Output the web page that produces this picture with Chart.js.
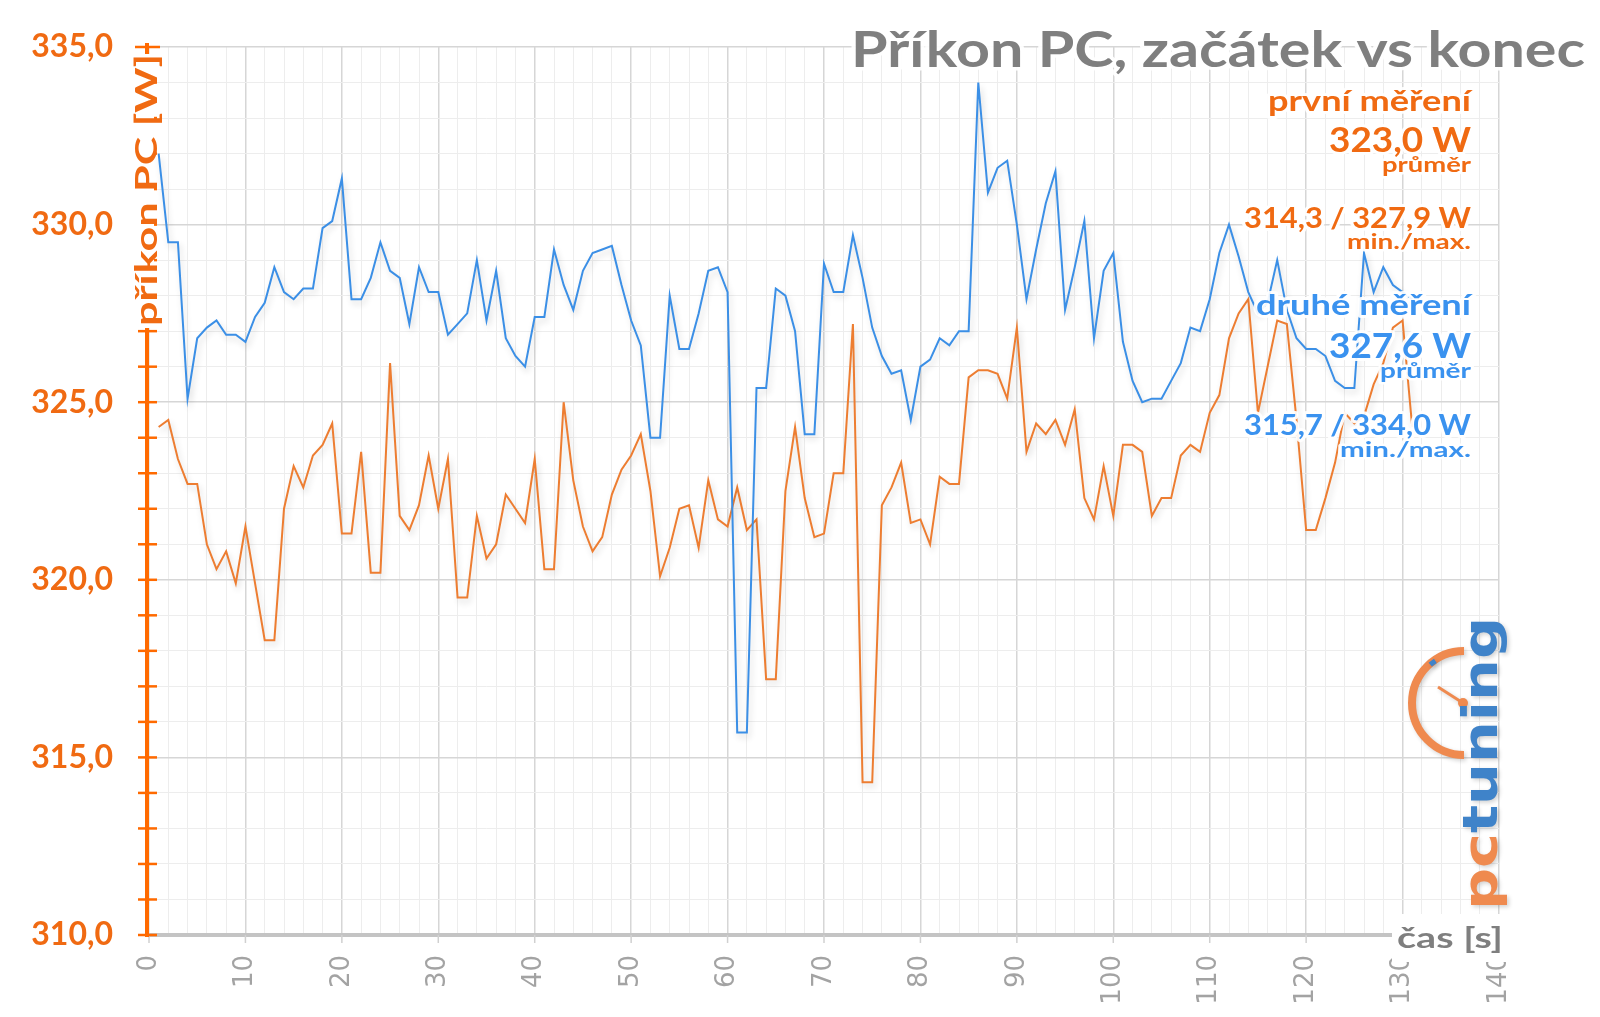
<!DOCTYPE html>
<html><head><meta charset="utf-8">
<script src="https://cdn.jsdelivr.net/npm/chart.js@4/dist/chart.umd.min.js"></script>
<style>html,body{margin:0;padding:0;background:#fff;}canvas{display:block;}</style>
</head><body>
<canvas id="c" width="1600" height="1017"></canvas>
<script>
// ---- data ----
const casS = [1,2,3,4,5,6,7,8,9,10,11,12,13,14,15,16,17,18,19,20,21,22,23,24,25,26,27,28,29,30,31,32,33,34,35,36,37,38,39,40,41,42,43,44,45,46,47,48,49,50,51,52,53,54,55,56,57,58,59,60,61,62,63,64,65,66,67,68,69,70,71,72,73,74,75,76,77,78,79,80,81,82,83,84,85,86,87,88,89,90,91,92,93,94,95,96,97,98,99,100,101,102,103,104,105,106,107,108,109,110,111,112,113,114,115,116,117,118,119,120,121,122,123,124,125,126,127,128,129,130,131];
const druheMereni = [332.0,329.5,329.5,325.1,326.8,327.1,327.3,326.9,326.9,326.7,327.4,327.8,328.8,328.1,327.9,328.2,328.2,329.9,330.1,331.3,327.9,327.9,328.5,329.5,328.7,328.5,327.2,328.8,328.1,328.1,326.9,327.2,327.5,329.0,327.3,328.7,326.8,326.3,326.0,327.4,327.4,329.3,328.3,327.6,328.7,329.2,329.3,329.4,328.3,327.3,326.6,324.0,324.0,328.0,326.5,326.5,327.5,328.7,328.8,328.1,315.7,315.7,325.4,325.4,328.2,328.0,327.0,324.1,324.1,328.9,328.1,328.1,329.7,328.5,327.1,326.3,325.8,325.9,324.5,326.0,326.2,326.8,326.6,327.0,327.0,334.0,330.9,331.6,331.8,330.0,327.9,329.3,330.6,331.5,327.6,328.8,330.1,326.8,328.7,329.2,326.7,325.6,325.0,325.1,325.1,325.6,326.1,327.1,327.0,327.9,329.2,330.0,329.1,328.1,327.5,327.8,329.0,327.6,326.8,326.5,326.5,326.3,325.6,325.4,325.4,329.2,328.1,328.8,328.3,328.1,327.9];
const prvniMereni = [324.3,324.5,323.4,322.7,322.7,321.0,320.3,320.8,319.9,321.5,319.9,318.3,318.3,322.0,323.2,322.6,323.5,323.8,324.4,321.3,321.3,323.6,320.2,320.2,326.1,321.8,321.4,322.1,323.5,322.0,323.4,319.5,319.5,321.8,320.6,321.0,322.4,322.0,321.6,323.4,320.3,320.3,325.0,322.8,321.5,320.8,321.2,322.4,323.1,323.5,324.1,322.5,320.1,320.9,322.0,322.1,320.9,322.8,321.7,321.5,322.6,321.4,321.7,317.2,317.2,322.5,324.3,322.3,321.2,321.3,323.0,323.0,327.2,314.3,314.3,322.1,322.6,323.3,321.6,321.7,321.0,322.9,322.7,322.7,325.7,325.9,325.9,325.8,325.1,327.1,323.6,324.4,324.1,324.5,323.8,324.8,322.3,321.7,323.2,321.8,323.8,323.8,323.6,321.8,322.3,322.3,323.5,323.8,323.6,324.7,325.2,326.8,327.5,327.9,324.7,326.0,327.3,327.2,324.5,321.4,321.4,322.3,323.3,324.7,324.4,324.6,325.5,326.1,327.1,327.3,324.3];
const yTickLabels = [310,315,320,325,330,335];
const xTickLabels = [0,10,20,30,40,50,60,70,80,90,100,110,120,130,140];
const chartTitle = 'Příkon PC, začátek vs konec';
const yTitle = 'příkon PC [W]';
const xTitle = 'čas [s]';
const seriesNames = ['první měření','druhé měření'];
const prumery = ['323,0 W','327,6 W'];
const minMax = ['314,3 / 327,9 W','315,7 / 334,0 W'];

const ORANGE_TXT = '#f06a12';
const ORANGE_AX = '#ff6a00';
const ORANGE_LINE = '#ed7d31';
const BLUE_LINE = '#3b8fe6';
const BLUE_TXT = '#3a92ef';
const GRAY_TXT = '#7f7f7f';

function fitText(ctx, text, x, y, font, color, targetW, align, halo) {
  ctx.save();
  ctx.font = font;
  const w = ctx.measureText(text).width;
  const sx = targetW ? targetW / w : 1;
  ctx.translate(x, y);
  ctx.scale(sx, 1);
  ctx.textAlign = align || 'right';
  ctx.textBaseline = 'alphabetic';
  if (halo) {
    ctx.strokeStyle = 'rgba(255,255,255,0.92)';
    ctx.lineWidth = halo;
    ctx.lineJoin = 'round';
    ctx.strokeText(text, 0, 0);
  }
  ctx.fillStyle = color;
  ctx.fillText(text, 0, 0);
  ctx.restore();
}

const decor = {
  id: 'decor',
  beforeDraw(chart) {
    const ctx = chart.ctx;
    ctx.save();
    ctx.fillStyle = '#fff';
    ctx.fillRect(0, 0, chart.width, chart.height);
    ctx.restore();
  },
  beforeDatasetDraw(chart) {
    const ctx = chart.ctx;
    ctx.save();
    ctx.shadowColor = 'rgba(0,0,0,0.16)';
    ctx.shadowBlur = 6;
    ctx.shadowOffsetX = 2;
    ctx.shadowOffsetY = 4;
  },
  afterDatasetDraw(chart) {
    chart.ctx.restore();
  },
  afterDraw(chart) {
    const ctx = chart.ctx;
    const xs = chart.scales.x, ys = chart.scales.y;
    const ca = chart.chartArea;
    ctx.save();
    // x axis line (gray, thick)
    ctx.strokeStyle = '#c4c4c4';
    ctx.lineWidth = 4;
    ctx.beginPath();
    ctx.moveTo(ca.left - 2, ys.getPixelForValue(310));
    ctx.lineTo(xs.getPixelForValue(140), ys.getPixelForValue(310));
    ctx.stroke();
    // small gray ticks below the axis for major x values
    ctx.strokeStyle = '#d0d0d0';
    ctx.lineWidth = 1.5;
    xTickLabels.forEach(v => {
      const px = xs.getPixelForValue(v);
      ctx.beginPath();
      ctx.moveTo(px, ca.bottom);
      ctx.lineTo(px, ca.bottom + 8);
      ctx.stroke();
    });
    // orange y axis
    const axX = ca.left - 2;
    ctx.strokeStyle = ORANGE_AX;
    ctx.lineWidth = 4;
    ctx.beginPath();
    ctx.moveTo(axX, ys.getPixelForValue(335) - 4);
    ctx.lineTo(axX, ys.getPixelForValue(310) + 2);
    ctx.stroke();
    ctx.lineWidth = 2.5;
    for (let v = 310; v <= 335; v++) {
      const py = ys.getPixelForValue(v);
      const big = v === 335;
      ctx.beginPath();
      ctx.moveTo(axX - (big ? 12 : 9), py);
      ctx.lineTo(axX + (big ? 13 : 10), py);
      ctx.stroke();
    }
    // y title with white box over the axis
    ctx.fillStyle = '#fff';
    ctx.fillRect(126, 54, 28, 274);
    ctx.save();
    ctx.translate(157, 190);
    ctx.rotate(-Math.PI / 2);
    fitText(ctx, yTitle, 0, 0, 'bold 31px Lato', ORANGE_TXT, 272, 'center', 0);
    ctx.restore();
    // x title with white box
    ctx.fillStyle = '#fff';
    ctx.fillRect(1392, 914, 115, 48);
    fitText(ctx, xTitle, 1503, 948, 'bold 29px Lato', GRAY_TXT, 106, 'right', 0);
    // chart title
    fitText(ctx, chartTitle, 1585, 67, 'bold 49px Lato', GRAY_TXT, 734, 'right', 7);
    // annotations
    const R = 1471;
    fitText(ctx, seriesNames[0], R, 111, 'bold 29px Lato', ORANGE_TXT, 203, 'right', 6);
    fitText(ctx, prumery[0], R, 152, 'bold 34px Lato', ORANGE_TXT, 142, 'right', 6);
    fitText(ctx, 'průměr', R, 172, 'bold 21px Lato', ORANGE_TXT, 89, 'right', 5);
    fitText(ctx, minMax[0], R, 228, 'bold 28px Lato', ORANGE_TXT, 227, 'right', 6);
    fitText(ctx, 'min./max.', R, 249, 'bold 21px Lato', ORANGE_TXT, 124, 'right', 5);
    fitText(ctx, seriesNames[1], R, 315, 'bold 29px Lato', BLUE_TXT, 215, 'right', 6);
    fitText(ctx, prumery[1], R, 358, 'bold 35px Lato', BLUE_TXT, 142, 'right', 6);
    fitText(ctx, 'průměr', R, 378, 'bold 21px Lato', BLUE_TXT, 91, 'right', 5);
    fitText(ctx, minMax[1], R, 435, 'bold 28px Lato', BLUE_TXT, 227, 'right', 6);
    fitText(ctx, 'min./max.', R, 457, 'bold 21px Lato', BLUE_TXT, 131, 'right', 5);
    // pctuning logo
    const cx = 1464, cy = 703, r = 52;
    ctx.save();
    ctx.shadowColor = 'rgba(0,0,0,0.18)';
    ctx.shadowBlur = 4;
    ctx.shadowOffsetX = 2;
    ctx.shadowOffsetY = 2;
    ctx.strokeStyle = '#ef8a4f';
    ctx.lineWidth = 8;
    ctx.lineCap = 'butt';
    ctx.beginPath();
    ctx.arc(cx, cy, r, Math.PI / 2, Math.PI * 1.5);
    ctx.stroke();
    ctx.strokeStyle = '#3f83c9';
    ctx.lineWidth = 5;
    ctx.beginPath();
    ctx.arc(cx, cy, r - 1, Math.PI * 1.27, Math.PI * 1.31);
    ctx.stroke();
    ctx.strokeStyle = '#ef8a4f';
    ctx.lineWidth = 3;
    ctx.beginPath();
    ctx.moveTo(cx - 1, cy);
    ctx.lineTo(cx - 26, cy - 16);
    ctx.stroke();
    ctx.fillStyle = '#ef8a4f';
    ctx.beginPath();
    ctx.arc(cx - 1, cy, 5, 0, Math.PI * 2);
    ctx.fill();
    ctx.translate(1497, 910);
    ctx.rotate(-Math.PI / 2);
    ctx.font = '600 48px "DejaVu Sans"';
    const wAll = ctx.measureText('pctuning').width;
    const sx = 293 / wAll;
    const wPc = ctx.measureText('pc').width;
    ctx.scale(sx, 1);
    ctx.textAlign = 'left';
    ctx.textBaseline = 'alphabetic';
    ctx.fillStyle = '#ef8a4f';
    ctx.fillText('pc', 0, 0);
    ctx.fillStyle = '#3f83c9';
    ctx.fillText('tuning', wPc, 0);
    ctx.restore();
    ctx.restore();
  }
};

const toPts = (arr) => arr.map((v, i) => ({ x: casS[i], y: v }));

new Chart(document.getElementById('c'), {
  type: 'line',
  data: {
    datasets: [
      { label: seriesNames[1], data: toPts(druheMereni), borderColor: BLUE_LINE, borderWidth: 2, pointRadius: 0, tension: 0, fill: false },
      { label: seriesNames[0], data: toPts(prvniMereni), borderColor: ORANGE_LINE, borderWidth: 2, pointRadius: 0, tension: 0, fill: false }
    ]
  },
  options: {
    responsive: false,
    animation: false,
    devicePixelRatio: 1,
    layout: { padding: { top: 47, right: 101, left: 0, bottom: 0 } },
    plugins: { legend: { display: false }, tooltip: { enabled: false }, title: { display: false } },
    scales: {
      x: {
        type: 'linear', min: 0, max: 140,
        afterFit(s) { s.height = 82; s.paddingLeft = 0; s.paddingRight = 0; },
        border: { display: false },
        grid: {
          drawTicks: false,
          color: (c) => (c.tick && c.tick.value % 10 === 0) ? '#d6d6d6' : '#ededed',
          lineWidth: (c) => (c.tick && c.tick.value % 10 === 0) ? 1.5 : 1
        },
        ticks: {
          stepSize: 2, autoSkip: false, minRotation: 90, maxRotation: 90, padding: 20,
          color: '#a3a3a3', font: { family: 'DejaVu Sans', size: 26 },
          callback: (v) => xTickLabels.includes(v) ? String(v) : ''
        }
      },
      y: {
        type: 'linear', min: 310, max: 335,
        afterFit(s) { s.width = 149; s.paddingTop = 0; s.paddingBottom = 0; },
        border: { display: false },
        grid: {
          drawTicks: false,
          color: (c) => (c.tick && c.tick.value % 5 === 0) ? '#d6d6d6' : '#ededed',
          lineWidth: (c) => (c.tick && c.tick.value % 5 === 0) ? 1.5 : 1
        },
        ticks: {
          stepSize: 1, autoSkip: false, padding: 36,
          color: ORANGE_TXT, font: { family: 'Lato', size: 32, weight: 'bold' },
          callback: (v) => yTickLabels.includes(v) ? v.toFixed(1).replace('.', ',') : ''
        }
      }
    }
  },
  plugins: [decor]
});
</script>
</body></html>
